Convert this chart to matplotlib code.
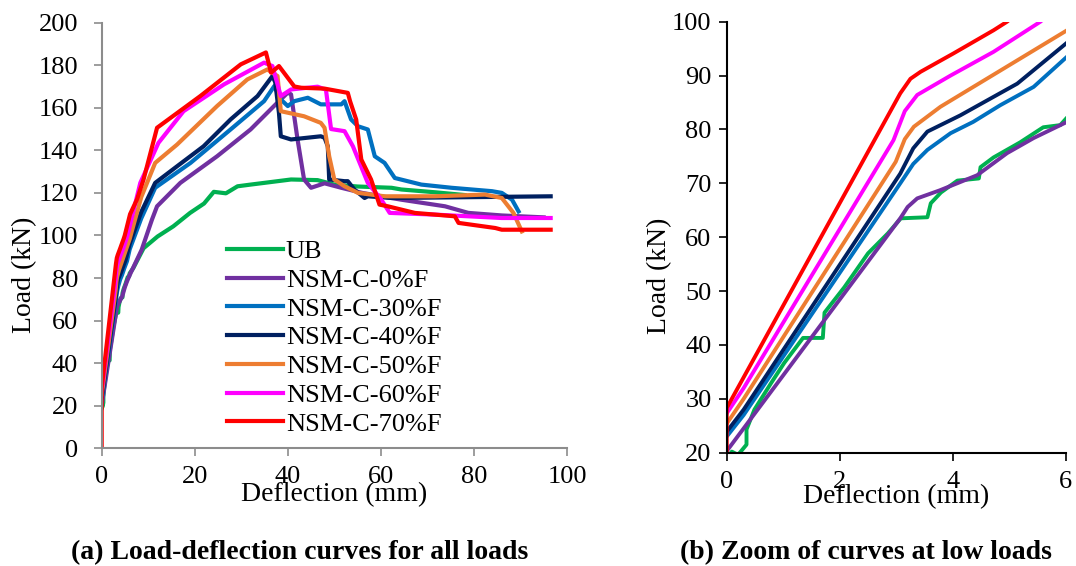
import matplotlib
matplotlib.use("Agg")
from matplotlib import pyplot as plt

plt.rcParams['font.family'] = ['Liberation Serif', 'DejaVu Serif']

#%% Data (deflection in mm, load in kN)
labels = ['UB', 'NSM-C-0%F', 'NSM-C-30%F', 'NSM-C-40%F',
          'NSM-C-50%F', 'NSM-C-60%F', 'NSM-C-70%F']
colors = ['#00B050', '#7030A0', '#0070C0', '#002060',
          '#ED7D31', '#FF00FF', '#FF0000']

ub_x = [0, 0.09, 0.2, 0.35, 0.35, 0.49, 0.79, 1.02, 1.35, 1.7, 1.73, 2.08, 2.5,
        2.85, 3.08, 3.55, 3.61, 3.79, 4.08, 4.46, 4.49, 4.72, 5.19, 5.6, 5.9,
        6.02, 6.8, 9.0, 12.0, 15.4, 19.0, 22.0, 24.1, 26.7, 29.2, 32.0, 36.0,
        40.7, 46.4, 50.0, 55.0, 62.3, 64.4, 71.6, 78.0]
ub_y = [19, 20.2, 19.6, 21.5, 24.3, 28, 33, 36.7, 41.3, 41.3, 46, 50.7, 57,
        60.7, 63.5, 63.7, 66.3, 68.3, 70.5, 70.9, 73, 74.8, 77.6, 80.4, 80.8,
        82.2, 84.7, 94.0, 99.5, 104.3, 110.6, 115.0, 120.5, 119.8, 123.1, 123.9,
        125.0, 126.3, 126.0, 123.9, 123.0, 122.4, 121.6, 120.3, 119.0]

c0_x = [0, 3.07, 3.2, 3.37, 3.77, 4.43, 4.96, 5.43, 6.02, 8.6, 10.8, 11.9, 16.9,
        24.8, 32.0, 37.4, 40.0, 40.7, 42.1, 43.5, 45.0, 47.9, 51.5, 56.0, 64.4,
        73.8, 78.8, 86.0, 95.0]
c0_y = [20.3, 63.5, 65.6, 67.2, 68.7, 71.5, 75.6, 78.4, 81.4, 93.3, 107.4, 113.7,
        124.7, 137.2, 149.8, 161.6, 167.1, 166.3, 145.1, 126.3, 122.4, 124.5,
        122.4, 120.0, 116.8, 113.7, 110.6, 109.4, 108.5]

c30_x = [0, 0.3, 3.07, 3.3, 3.55, 3.96, 4.36, 4.84, 5.43, 6.02, 8.5, 11.5, 19.1,
         27.7, 34.9, 37.1, 38.5, 40.0, 41.4, 44.3, 47.1, 51.5, 52.2, 53.6, 55.1,
         57.2, 58.7, 60.8, 63.0, 68.7, 75.2, 83.9, 86.0, 88.2, 89.6]
c30_y = [23, 27, 70, 73.6, 76.2, 79.3, 81.4, 84.5, 87.9, 93.5, 108, 122.4, 134.1,
         149.8, 163.1, 170.2, 163.9, 160.8, 163.1, 164.7, 161.6, 161.6, 163.1,
         154.5, 151.3, 149.8, 137.2, 134.1, 127.0, 123.9, 122.4, 120.8, 120.0,
         116.8, 111.3]

c40_x = [0, 0.3, 3.07, 3.3, 3.55, 4.13, 5.14, 6.02, 8.5, 11.5, 16.2, 21.9, 27.7,
         33.5, 36.7, 37.3, 38.1, 38.5, 40.7, 47.1, 47.9, 48.6, 48.9, 52.2, 52.9,
         54.3, 56.5, 57.2, 62.3, 96.5]
c40_y = [23.9, 28, 71.8, 76.5, 79.6, 82.6, 88.5, 96.1, 111, 124.7, 132.5, 141.9,
         154.5, 165.5, 174.9, 172.0, 157.6, 146.6, 145.1, 146.6, 145.9, 141.9,
         126.3, 125.5, 125.5, 121.6, 117.6, 118.4, 117.6, 118.4]

c50_x = [0, 0.3, 2.99, 3.15, 3.31, 3.78, 6.02, 8.5, 11.5, 16.2, 24.8, 31.3, 35.6,
         37.8, 38.5, 43.5, 47.1, 47.9, 48.9, 50.0, 52.2, 55.1, 60.8, 71.6, 82.4,
         86.0, 88.5, 90.3]
c50_y = [25.4, 30, 74, 78.2, 80.5, 84.2, 98.4, 118, 134.1, 142.7, 160.8, 173.3,
         178.0, 174.9, 158.4, 156.0, 152.9, 150.6, 137.2, 126.3, 123.1, 120.0,
         118.4, 118.4, 119.2, 117.6, 110.6, 101.9]

c60_x = [0, 0.3, 2.95, 3.15, 3.37, 3.96, 4.72, 5.55, 8.3, 12.2, 17.6, 26.3,
         34.9, 36.7, 38.5, 40.7, 46.4, 48.2, 49.3, 52.2, 54.0, 57.2, 60.1, 61.9,
         71.6, 86.0, 96.5]
c60_y = [27.3, 32, 78, 83.4, 86.4, 90, 94.4, 100, 124.7, 143.5, 158.4, 171.0,
         181.2, 179.6, 165.5, 168.6, 169.9, 168.5, 150.0, 149.0, 141.9, 124.7,
         116.8, 110.6, 109.8, 108.2, 108.2]

c70_x = [0, 0, 0.3, 3.07, 3.25, 3.43, 4.01, 4.72, 4.96, 6.1, 7.6, 9.0, 11.9,
         21.2, 29.9, 35.3, 36.4, 38.1, 41.4, 42.9, 47.9, 52.9, 53.4, 54.7, 55.8,
         57.9, 59.7, 61.5, 67.3, 75.9, 76.7, 84.6, 86.0, 96.5]
c70_y = [0, 28.3, 34, 86.7, 89.4, 90.7, 94.1, 98.4, 100, 110, 117, 126.3, 150.6,
         165.5, 180.4, 186.0, 176.5, 179.6, 170.0, 169.4, 169.0, 167.0, 163.0,
         154.5, 135.7, 126.3, 114.5, 113.7, 110.6, 109.0, 105.9, 103.5, 102.7,
         102.7]

xs = [ub_x, c0_x, c30_x, c40_x, c50_x, c60_x, c70_x]
ys = [ub_y, c0_y, c30_y, c40_y, c50_y, c60_y, c70_y]

#%% Plot
fig = plt.figure(figsize=(10.76, 5.66), dpi=100)
ax1 = fig.add_axes([0.0945, 0.208, 0.4324, 0.752])
ax2 = fig.add_axes([0.6754, 0.2002, 0.3152, 0.7615])

for x, y, c, lab in zip(xs, ys, colors, labels):
    ax1.plot(x, y, color=c, lw=3.0, label=lab, solid_joinstyle='round')
    ax2.plot(x, y, color=c, lw=2.8, solid_joinstyle='round')

fs = 19
lfs = 20
# (a) full range
ax1.set_xlim(0, 100)
ax1.set_ylim(0, 200)
ax1.set_xticks(range(0, 101, 20))
ax1.set_yticks(range(0, 201, 20))
for s in ['top', 'right']:
    ax1.spines[s].set_visible(False)
for s in ['left', 'bottom']:
    ax1.spines[s].set_color('#8c8c8c')
    ax1.spines[s].set_linewidth(1.5)
ax1.tick_params(colors='#8c8c8c', labelcolor='black', labelsize=fs,
                length=6, width=1.2)
ax1.tick_params(axis='x', pad=7)
ax1.tick_params(axis='y', pad=11)
ax1.set_xlabel('Deflection (mm)', fontsize=lfs, labelpad=-4.3)
ax1.set_ylabel('Load (kN)', fontsize=lfs)
ax1.yaxis.set_label_coords(-0.139, 0.407)
ax1.legend(loc='lower left', bbox_to_anchor=(0.27, 0.03), frameon=False,
           fontsize=fs, handlelength=2.1, handletextpad=0.12,
           labelspacing=0.2, borderpad=0, borderaxespad=0)

# (b) zoom at low loads
ax2.set_xlim(0, 6)
ax2.set_ylim(20, 100)
ax2.set_xticks(range(0, 7, 2))
ax2.set_yticks(range(20, 101, 10))
for s in ['top', 'right']:
    ax2.spines[s].set_visible(False)
for s in ['left', 'bottom']:
    ax2.spines[s].set_linewidth(1.5)
ax2.tick_params(labelsize=fs, length=6, width=1.2)
ax2.tick_params(axis='x', pad=7)
ax2.tick_params(axis='y', pad=5)
ax2.set_xlabel('Deflection (mm)', fontsize=lfs, labelpad=-6.3)
ax2.set_ylabel('Load (kN)', fontsize=lfs)
ax2.yaxis.set_label_coords(-0.161, 0.41)

fig.text(0.278, 0.013, '(a) Load-deflection curves for all loads',
         ha='center', fontsize=lfs, fontweight='bold')
fig.text(0.805, 0.013, '(b) Zoom of curves at low loads',
         ha='center', fontsize=lfs, fontweight='bold')

plt.savefig('out.png', dpi=100)
